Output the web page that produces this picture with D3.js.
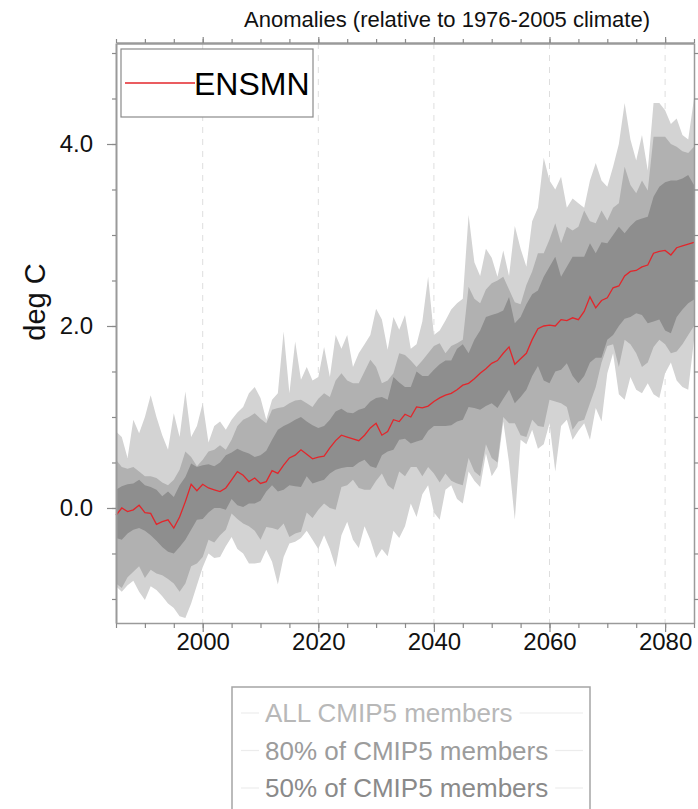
<!DOCTYPE html>
<html>
<head>
<meta charset="utf-8">
<script src="https://cdn.jsdelivr.net/npm/d3@7"></script>
<style>
  body { margin: 0; background: #fff; }
  svg { display: block; font-family: "Liberation Sans", Arial, Helvetica, sans-serif; }
</style>
</head>
<body>
<svg id="chart" width="698" height="809"></svg>
<script>
// years 1985..2085, one value per year
var years = d3.range(1985, 2086);

var ensmn = [
  -0.08, 0.00, -0.04, -0.02, 0.03, -0.05, -0.06, -0.18, -0.15, -0.13,
  -0.22, -0.10, 0.07, 0.26, 0.19, 0.26, 0.22, 0.20, 0.18, 0.22,
  0.31, 0.40, 0.36, 0.29, 0.33, 0.27, 0.29, 0.41, 0.38, 0.47,
  0.55, 0.58, 0.64, 0.59, 0.54, 0.56, 0.57, 0.66, 0.74, 0.80,
  0.78, 0.76, 0.74, 0.80, 0.88, 0.93, 0.80, 0.84, 0.97, 0.95,
  1.03, 1.00, 1.11, 1.10, 1.12, 1.17, 1.21, 1.24, 1.26, 1.30,
  1.35, 1.37, 1.42, 1.48, 1.53, 1.59, 1.62, 1.70, 1.77, 1.58,
  1.64, 1.70, 1.85, 1.97, 2.00, 2.01, 2.00, 2.07, 2.06, 2.09,
  2.07, 2.16, 2.32, 2.20, 2.28, 2.31, 2.42, 2.44, 2.55, 2.60,
  2.61, 2.65, 2.67, 2.80, 2.82, 2.83, 2.78, 2.86, 2.88, 2.90,
  2.92
];

// ALL CMIP5 members (min / max)
var allHi = [
  0.84, 0.78, 0.55, 0.97, 0.82, 1.00, 1.24, 1.00, 0.80, 0.64,
  1.04, 0.78, 1.28, 0.78, 0.90, 1.15, 0.72, 0.90, 0.95, 0.86,
  0.97, 1.05, 1.11, 1.26, 1.33, 1.21, 0.97, 1.19, 1.26, 1.94,
  1.26, 1.83, 1.41, 1.55, 1.40, 1.44, 1.77, 1.44, 1.90, 1.75,
  1.90, 1.55, 1.70, 1.80, 1.90, 2.19, 2.07, 1.74, 2.10, 1.96,
  2.12, 1.75, 1.80, 2.05, 2.54, 1.90, 1.95, 2.06, 2.18, 2.25,
  2.30, 3.22, 2.70, 2.55, 2.85, 2.75, 2.54, 2.83, 2.55, 3.10,
  2.85, 2.65, 3.15, 3.30, 3.85, 3.60, 3.50, 3.64, 3.30, 3.40,
  3.35, 3.30, 3.60, 3.79, 3.60, 3.53, 3.75, 4.00, 4.45, 4.05,
  3.82, 4.10, 3.71, 4.45, 4.45, 4.37, 4.22, 4.28, 4.10, 4.05,
  4.50
];
var allLo = [
  -0.86, -0.92, -0.85, -0.80, -0.92, -1.01, -0.86, -0.90, -0.97, -1.05,
  -1.10, -1.19, -1.21, -1.05, -0.85, -0.65, -0.50, -0.55, -0.54, -0.42,
  -0.32, -0.45, -0.50, -0.61, -0.61, -0.60, -0.46, -0.59, -0.84, -0.54,
  -0.39, -0.37, -0.33, -0.25, -0.35, -0.45, -0.30, -0.45, -0.65, -0.30,
  -0.15, -0.35, -0.44, -0.20, -0.35, -0.55, -0.45, -0.53, -0.25, -0.33,
  -0.20, 0.05, -0.10, 0.15, 0.25, -0.05, -0.13, 0.20, 0.25, 0.10,
  0.05, 0.40, 0.30, 0.23, 0.60, 0.35, 0.45, 0.95, 0.50, -0.13,
  0.75, 0.70, 0.86, 0.65, 0.70, 0.93, 0.40, 0.90, 0.97, 0.75,
  0.85, 0.93, 0.75, 1.10, 0.95, 1.48, 1.70, 1.25, 1.19, 1.44,
  1.30, 1.26, 1.37, 1.25, 1.21, 1.48, 1.60, 1.40, 1.33, 1.30,
  1.85
];

// 80% of CMIP5 members
var hi80 = [
  0.53, 0.45, 0.43, 0.45, 0.40, 0.35, 0.35, 0.33, 0.28, 0.25,
  0.31, 0.42, 0.62, 0.56, 0.46, 0.53, 0.62, 0.64, 0.69, 0.64,
  0.75, 0.90, 0.97, 1.00, 1.04, 0.98, 0.93, 1.08, 1.10, 1.11,
  1.15, 1.18, 1.19, 1.15, 1.11, 1.20, 1.26, 1.22, 1.40, 1.48,
  1.40, 1.37, 1.37, 1.50, 1.63, 1.55, 1.37, 1.40, 1.48, 1.70,
  1.68, 1.62, 1.55, 1.62, 1.70, 1.78, 1.81, 1.70, 1.78, 1.81,
  1.85, 2.43, 2.30, 2.25, 2.40, 2.47, 2.50, 2.54, 2.40, 2.26,
  2.24, 2.45, 2.60, 2.80, 2.80, 2.95, 3.13, 2.91, 3.09, 3.05,
  3.09, 3.27, 3.15, 3.13, 3.27, 3.16, 3.30, 3.35, 3.75, 3.55,
  3.46, 3.60, 3.49, 4.08, 4.08, 4.08, 4.00, 3.97, 3.92, 3.90,
  3.97
];
var lo80 = [
  -0.83, -0.88, -0.76, -0.70, -0.64, -0.77, -0.68, -0.72, -0.74, -0.78,
  -0.83, -0.92, -0.83, -0.64, -0.61, -0.54, -0.35, -0.38, -0.30, -0.24,
  -0.06, -0.12, -0.17, -0.20, -0.25, -0.35, -0.21, -0.22, -0.24, -0.17,
  -0.32, -0.28, -0.26, -0.05, -0.11, -0.02, 0.05, 0.00, -0.02, 0.23,
  0.25, 0.31, 0.22, 0.20, 0.20, 0.30, 0.38, 0.25, 0.20, 0.40,
  0.35, 0.45, 0.45, 0.35, 0.45, 0.38, 0.28, 0.38, 0.30, 0.27,
  0.25, 0.55, 0.40, 0.35, 0.70, 0.55, 0.50, 1.00, 0.93, 0.93,
  0.80, 0.78, 0.97, 0.90, 0.89, 1.19, 1.17, 1.15, 1.11, 0.86,
  0.95, 0.97, 1.15, 1.33, 1.60, 1.78, 1.80, 1.55, 1.85, 1.80,
  1.70, 1.55, 1.60, 1.77, 1.85, 1.80, 1.70, 1.72, 1.80, 1.90,
  2.00
];

// 50% of CMIP5 members
var hi50 = [
  0.20, 0.24, 0.26, 0.27, 0.31, 0.25, 0.23, 0.20, 0.13, 0.18,
  0.12, 0.25, 0.34, 0.49, 0.45, 0.47, 0.48, 0.46, 0.50, 0.58,
  0.61, 0.65, 0.62, 0.60, 0.56, 0.58, 0.63, 0.75, 0.86, 0.90,
  0.93, 0.97, 1.00, 0.95, 0.91, 0.88, 0.90, 0.97, 1.06, 1.09,
  1.05, 1.04, 1.08, 1.10, 1.17, 1.21, 1.22, 1.19, 1.44, 1.38,
  1.33, 1.33, 1.50, 1.45, 1.45, 1.52, 1.58, 1.62, 1.62, 1.75,
  1.80, 1.70, 1.85, 1.95, 2.10, 2.12, 2.14, 2.17, 2.32, 2.03,
  2.10, 2.24, 2.35, 2.39, 2.54, 2.65, 2.76, 2.54, 2.65, 2.76,
  2.76, 2.76, 2.91, 2.80, 2.92, 2.91, 3.00, 3.09, 3.02, 3.10,
  3.16, 3.18, 3.20, 3.42, 3.53, 3.58, 3.60, 3.60, 3.62, 3.66,
  3.55
];
var lo50 = [
  -0.33, -0.35, -0.28, -0.24, -0.22, -0.25, -0.30, -0.36, -0.43, -0.48,
  -0.50, -0.43, -0.35, -0.24, -0.13, -0.12, -0.05, 0.00, 0.00, -0.02,
  0.10, 0.03, 0.01, 0.05, 0.05, 0.08, 0.18, 0.25, 0.18, 0.20,
  0.25, 0.24, 0.23, 0.35, 0.27, 0.29, 0.31, 0.38, 0.42, 0.44,
  0.45, 0.45, 0.50, 0.53, 0.46, 0.44, 0.58, 0.62, 0.64, 0.75,
  0.76, 0.71, 0.73, 0.75, 0.85, 0.90, 0.90, 0.90, 0.91, 0.95,
  0.97, 1.11, 1.10, 1.08, 1.12, 1.15, 1.10, 1.20, 1.30, 1.15,
  1.22, 1.30, 1.45, 1.56, 1.40, 1.37, 1.50, 1.52, 1.59, 1.45,
  1.37, 1.45, 1.60, 1.65, 1.65, 1.85, 1.90, 2.00, 2.08, 2.10,
  2.14, 2.12, 2.03, 2.05, 2.07, 1.95, 1.92, 2.10, 2.18, 2.25,
  2.29
];

var xTicks = [2000, 2020, 2040, 2060, 2080];
var yTicks = [0, 2, 4];
var bandLabels = ["ALL CMIP5 members", "80% of CMIP5 members", "50% of CMIP5 members"];

(function () {
  var svg = d3.select("#chart");
  var pLeft = 116, pRight = 694, pTop = 43, pBottom = 623;

  var x = d3.scaleLinear().domain([1985, 2085]).range([pLeft, pRight]);
  var y = d3.scaleLinear().domain([-1.264, 5.11]).range([pBottom, pTop]);

  // title + y label
  svg.append("text")
    .attr("x", 447).attr("y", 27)
    .attr("text-anchor", "middle")
    .style("font-size", "22px").attr("fill", "#111")
    .text("Anomalies (relative to 1976-2005 climate)");

  svg.append("text")
    .attr("transform", "translate(45,302) rotate(-90)")
    .attr("text-anchor", "middle")
    .style("font-size", "29px").attr("fill", "#111")
    .text("deg C");

  // dashed grid at major years
  svg.append("g").selectAll("line").data(xTicks).join("line")
    .attr("x1", d => x(d)).attr("x2", d => x(d))
    .attr("y1", pTop).attr("y2", pBottom)
    .attr("stroke", "#dedede").attr("stroke-width", 1)
    .attr("stroke-dasharray", "6,6");

  // bands, widest first
  var bands = [
    { hi: allHi, lo: allLo, color: "#d3d3d3" },
    { hi: hi80, lo: lo80, color: "#b1b1b1" },
    { hi: hi50, lo: lo50, color: "#8e8e8e" }
  ];
  bands.forEach(function (b) {
    var area = d3.area()
      .x(function (d, i) { return x(years[i]); })
      .y0(function (d, i) { return y(b.lo[i]); })
      .y1(function (d, i) { return y(b.hi[i]); });
    svg.append("path").datum(b.hi)
      .attr("d", area)
      .attr("fill", b.color);
  });

  var line = d3.line()
    .x(function (d, i) { return x(years[i]); })
    .y(function (d) { return y(d); });
  svg.append("path").datum(ensmn)
    .attr("d", line)
    .attr("fill", "none")
    .attr("stroke", "#e3262b")
    .attr("stroke-width", 1.3);

  // axes
  function styleAxis(g, w) {
    g.select(".domain").attr("stroke", "#9a9a9a").attr("stroke-width", w);
    g.selectAll(".tick line").attr("stroke", "#8a8a8a").attr("stroke-width", 1.2);
    g.selectAll("text").attr("fill", "#111").style("font-size", "24px")
      .style("font-family", "'Liberation Sans', Arial, Helvetica, sans-serif");
  }

  var minorX = d3.range(1985, 2086, 5);
  var minorY = d3.range(-1, 5.01, 0.5);

  var gb = svg.append("g").attr("transform", "translate(0," + pBottom + ")");
  gb.call(d3.axisBottom(x).tickValues(minorX).tickSize(5).tickSizeOuter(0).tickFormat(""));
  gb.append("g").call(d3.axisBottom(x).tickValues(xTicks).tickSize(9).tickSizeOuter(0)
    .tickPadding(1).tickFormat(d3.format("d")))
    .call(g => g.select(".domain").remove());
  styleAxis(gb, 1.5);

  var gt = svg.append("g").attr("transform", "translate(0," + pTop + ")");
  gt.call(d3.axisTop(x).tickValues(minorX).tickSize(4).tickSizeOuter(0).tickFormat(""));
  gt.append("g").call(d3.axisTop(x).tickValues(xTicks).tickSize(6).tickSizeOuter(0).tickFormat(""))
    .call(g => g.select(".domain").remove());
  styleAxis(gt, 2.5);

  var gl = svg.append("g").attr("transform", "translate(" + pLeft + ",0)");
  gl.call(d3.axisLeft(y).tickValues(minorY).tickSize(4).tickSizeOuter(0).tickFormat(""));
  gl.append("g").call(d3.axisLeft(y).tickValues(yTicks).tickSize(9).tickSizeOuter(0)
    .tickPadding(14).tickFormat(d3.format(".1f")))
    .call(g => g.select(".domain").remove());
  styleAxis(gl, 2);

  var gr = svg.append("g").attr("transform", "translate(" + pRight + ",0)");
  gr.call(d3.axisRight(y).tickValues(minorY).tickSize(4).tickSizeOuter(0).tickFormat(""));
  styleAxis(gr, 1.5);

  // ENSMN legend
  svg.append("rect")
    .attr("x", 121).attr("y", 49).attr("width", 192).attr("height", 68)
    .attr("fill", "#fff").attr("stroke", "#8a8a8a").attr("stroke-width", 1.2);
  svg.append("line")
    .attr("x1", 125).attr("x2", 195).attr("y1", 83).attr("y2", 83)
    .attr("stroke", "#e3262b").attr("stroke-width", 1.5);
  svg.append("text")
    .attr("x", 194).attr("y", 95)
    .style("font-size", "32px").attr("fill", "#000")
    .text("ENSMN");

  // band legend at the bottom
  svg.append("rect")
    .attr("x", 232).attr("y", 687).attr("width", 358).attr("height", 140)
    .attr("fill", "#fff").attr("stroke", "#a5a5a5").attr("stroke-width", 1.5);

  var textColors = ["#b8b8b8", "#9c9c9c", "#8a8a8a"];
  bandLabels.forEach(function (lab, i) {
    var by = 722 + i * 37.5;
    var t = svg.append("text")
      .attr("x", 265).attr("y", by)
      .style("font-size", "26px").attr("fill", textColors[i])
      .text(lab);
    var end = 265 + t.node().getComputedTextLength();
    svg.append("line")
      .attr("x1", 241).attr("x2", 259).attr("y1", by - 9).attr("y2", by - 9)
      .attr("stroke", "#ececec").attr("stroke-width", 1.2);
    svg.append("line")
      .attr("x1", end + 7).attr("x2", 583).attr("y1", by - 9).attr("y2", by - 9)
      .attr("stroke", "#ececec").attr("stroke-width", 1.2);
  });
})();
</script>
</body>
</html>
